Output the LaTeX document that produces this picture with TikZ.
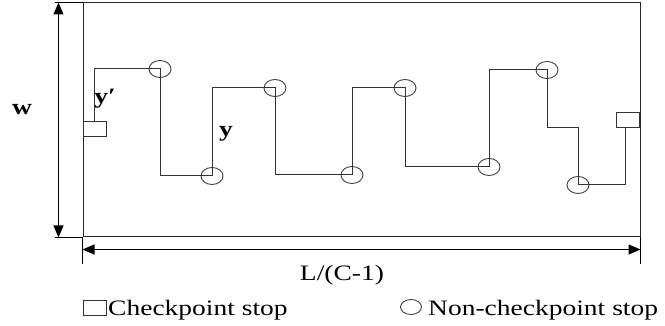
\documentclass[tikz,border=0pt]{standalone}
\usepackage{fontspec}
\setmainfont{Liberation Serif}
\usepackage{graphicx}
\usetikzlibrary{arrows.meta,shapes.geometric,positioning,calc}
\newcommand{\widetxt}[1]{\scalebox{1.25}[1]{#1}}
\newcommand{\lblsize}{\fontsize{22}{25}\selectfont}

\begin{document}
\begin{tikzpicture}[x=1pt, y=-1pt,
      stop/.style={draw, ellipse, minimum width=22pt, minimum height=17pt, inner sep=0pt, line width=0.9pt, color=black!75},
      chk/.style={draw, rectangle, minimum width=23pt, minimum height=15pt, inner sep=0pt, line width=0.9pt, color=black!80},
      route/.style={line width=1pt, color=black!80},
      dimline/.style={{Triangle[length=12pt,width=10pt]}-{Triangle[length=12pt,width=10pt]}, line width=1.1pt},
      lbl/.style={font=\lblsize, inner sep=0pt}
    ]
    \useasboundingbox (0,0) rectangle (665,326);

    % service area
    \node[draw, line width=1pt, color=black!85, minimum width=557pt, minimum height=234pt, inner sep=0pt]
      (area) at (361.5,120) {};

    % stops
    \node[chk] (s1) at (94.5,128.5) {};
    \node[chk] (s2) at (628,120) {};
    \node[stop] (c1) at (160,69) {};
    \node[stop] (c2) at (212,176) {};
    \node[stop] (c3) at (275,88) {};
    \node[stop] (c4) at (352,175) {};
    \node[stop] (c5) at (405,88) {};
    \node[stop] (c6) at (489,167) {};
    \node[stop] (c7) at (547,70) {};
    \node[stop] (c8) at (578,185) {};

    \draw[route] (s1.north) |- (c1.center) |- (c2.center) |- (c3.center) |- (c4.center)
      |- (c5.center) |- (c6.center) |- (c7.center) |- (c8.center |- s2.south)
      -- (c8.center) -| ([xshift=-3pt]s2.south);

    % dimensions
    \draw[line width=1pt] ([xshift=-28pt]area.north west) -- (area.north west);
    \draw[line width=1pt] ([xshift=-28pt]area.south west) -- (area.south west);
    \draw[dimline] ([xshift=-24pt]area.north west) -- ([xshift=-24pt]area.south west);
    \draw[line width=1pt] (area.south west) -- ++(0,27);
    \draw[line width=1pt] (area.south east) -- ++(0,27);
    \draw[dimline] ([yshift=-12pt]area.south west) -- ([yshift=-12pt]area.south east);

    \node[lbl, font=\lblsize\bfseries] (wlbl) at (22,110) {\widetxt{w}};
    \node[lbl, font=\lblsize\bfseries] (ylbl1) at (105,99) {\widetxt{y′}};
    \node[lbl, font=\lblsize\bfseries] (ylbl) at (226,134) {\widetxt{y}};
    \node[lbl, anchor=base] (len) at (342,281) {\widetxt{L/(C-1)}};

    % legend
    \node[chk] (k1) at (94.5,307.5) {};
    \node[lbl, anchor=base west] (k1txt) at (108,316) {\widetxt{Checkpoint stop}};
    \node[stop, minimum width=21pt, minimum height=15pt] (k2) at (411,307) {};
    \node[lbl, anchor=base west] (k2txt) at (428,316) {\widetxt{Non-checkpoint stop}};
\end{tikzpicture}
\end{document}
